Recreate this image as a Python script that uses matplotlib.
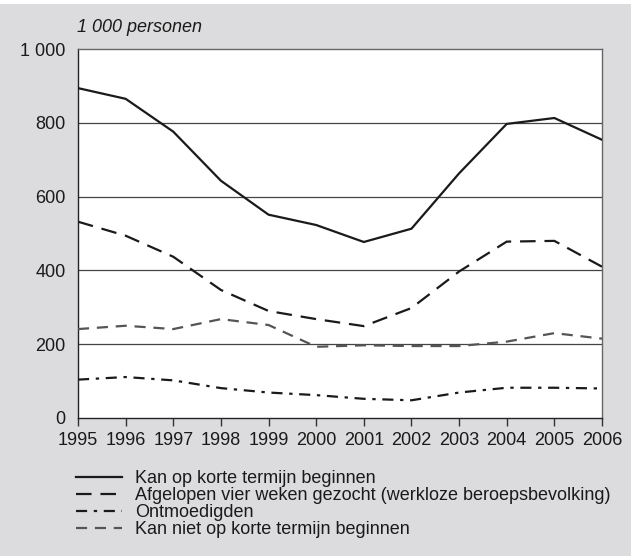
import matplotlib
matplotlib.use("Agg")
import matplotlib.pyplot as plt
from matplotlib.lines import Line2D

plt.rcParams['font.family'] = ['Liberation Sans', 'DejaVu Sans']

years = list(range(1995, 2007))
kan_op_korte = [894, 865, 776, 643, 551, 523, 477, 513, 663, 797, 813, 754]
afgelopen_gezocht = [532, 494, 437, 347, 290, 268, 249, 298, 397, 478, 480, 410]
ontmoedigden = [104, 111, 102, 81, 69, 62, 52, 48, 69, 82, 82, 80]
kan_niet_korte = [241, 250, 241, 268, 252, 193, 197, 195, 195, 207, 230, 215]

labels = [
    "Kan op korte termijn beginnen",
    "Afgelopen vier weken gezocht (werkloze beroepsbevolking)",
    "Ontmoedigden",
    "Kan niet op korte termijn beginnen",
]
yticks = [0, 200, 400, 600, 800, 1000]
ytick_labels = ["0", "200", "400", "600", "800", "1 000"]

bg = '#dcdcde'
FS = 13
fig = plt.figure(figsize=(6.31, 5.56), dpi=100, facecolor=bg)
fig.patches.append(plt.Rectangle((0, 1 - 4 / 556), 1, 4 / 556, transform=fig.transFigure,
                                 facecolor='white', edgecolor='none', zorder=0))

ax = fig.add_axes([78 / 631, 1 - 418 / 556, (602 - 78) / 631, (418 - 49) / 556])
ax.set_facecolor('white')

styles = [
    dict(color='#1a1a1a', linestyle='-', lw=1.6),
    dict(color='#1a1a1a', linestyle=(0, (7, 4)), lw=1.6),
    dict(color='#1a1a1a', linestyle=(0, (5, 3, 1.5, 3)), lw=1.6),
    dict(color='#555555', linestyle=(0, (5, 3.5)), lw=1.6),
]
series = [kan_op_korte, afgelopen_gezocht, ontmoedigden, kan_niet_korte]
for s, st in zip(series, styles):
    ax.plot(years, s, solid_joinstyle='miter', dash_joinstyle='miter', **st, zorder=3)

ax.set_xlim(1995, 2006)
ax.set_ylim(0, 1000)
ax.set_xticks(years)
ax.set_xticklabels([str(y) for y in years], fontsize=FS, color='#1a1a1a')
ax.set_yticks(yticks)
ax.set_yticklabels(ytick_labels, fontsize=FS, color='#1a1a1a')
ax.tick_params(axis='x', length=6, width=1, color='#333333', pad=4, direction='out')
ax.tick_params(axis='y', length=0, pad=9)
for yv in [200, 400, 600, 800]:
    ax.axhline(yv, color='#444444', lw=0.9, zorder=1)
for side in ['left', 'bottom']:
    ax.spines[side].set_color('#222222')
    ax.spines[side].set_linewidth(1.0)
for side in ['top', 'right']:
    ax.spines[side].set_color('#666666')
    ax.spines[side].set_linewidth(1.0)

fig.text(77 / 631, 1 - 27 / 556, "1 000 personen", fontsize=FS, style='italic',
         color='#1a1a1a', ha='left', va='center')

handles = [Line2D([0], [0], **st) for st in styles]
leg = fig.legend(handles, labels, loc='upper left', bbox_to_anchor=(76 / 631, 1 - 470 / 556),
                 frameon=False, fontsize=FS, handlelength=2.55, handletextpad=0.72,
                 labelspacing=0.0, borderaxespad=0, borderpad=0)
for t in leg.get_texts():
    t.set_color('#1a1a1a')

fig.savefig('out.png', dpi=100, facecolor=bg)
